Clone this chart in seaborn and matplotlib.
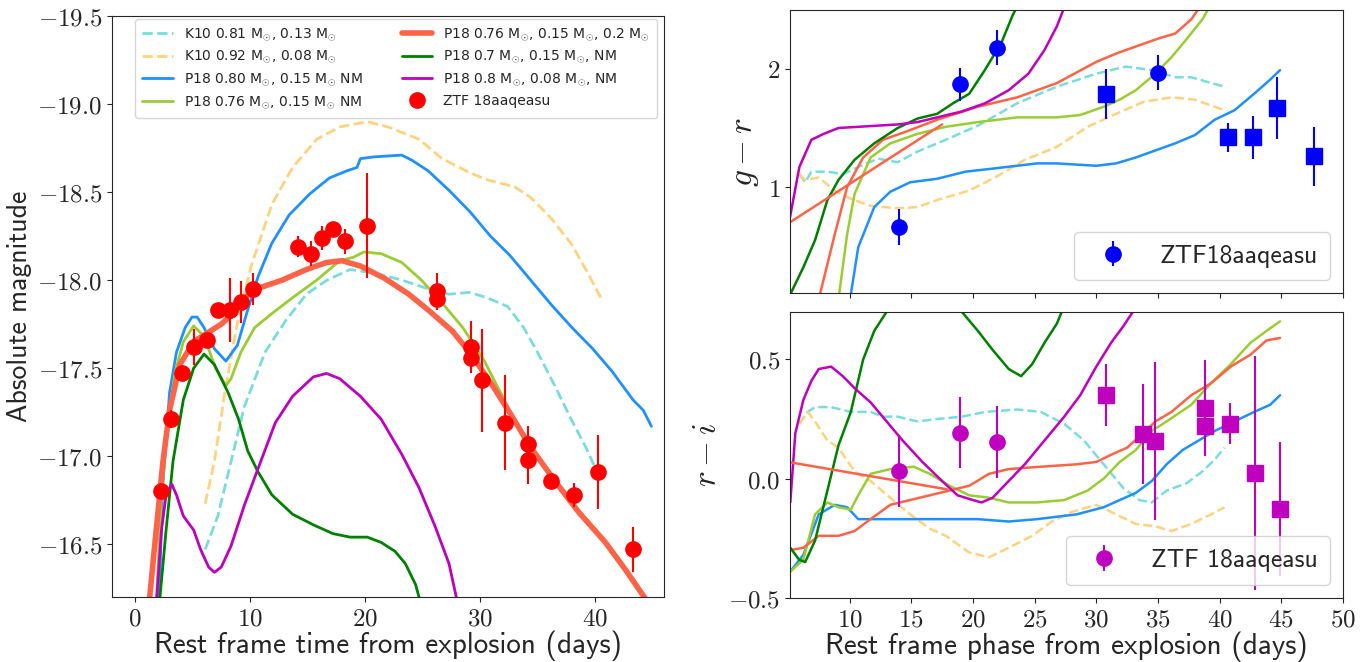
import matplotlib
matplotlib.use("Agg")
import matplotlib.pyplot as plt
from matplotlib.ticker import FuncFormatter
import seaborn as sns

# ---------------- left panel: light curves ----------------
t_k10_081 = [6.1, 7.2, 8.35, 9.5, 11.3, 13.1, 14.9, 16.7, 18.7, 20.8, 23.2, 25.5, 27.3, 29.1, 30.6, 32.4, 33.8, 35.0, 36.5, 38.0, 39.2, 39.9]
m_k10_081 = [-16.47, -16.66, -16.97, -17.28, -17.59, -17.77, -17.92, -18.00, -18.06, -18.04, -18.00, -17.95, -17.92, -17.93, -17.90, -17.85, -17.73, -17.59, -17.40, -17.20, -17.05, -16.95]

t_k10_092 = [6.1, 6.9, 7.8, 9.0, 10.1, 11.9, 13.7, 15.8, 17.8, 20.2, 22.0, 24.7, 26.7, 29.1, 30.6, 33.0, 34.4, 36.2, 38.0, 39.2, 40.5]
m_k10_092 = [-16.73, -16.97, -17.36, -17.79, -18.08, -18.43, -18.64, -18.80, -18.87, -18.90, -18.87, -18.80, -18.69, -18.61, -18.57, -18.53, -18.47, -18.35, -18.20, -18.06, -17.90]

t_p18_080 = [2.05, 2.4, 3.0, 3.6, 4.36, 4.95, 5.4, 6.0, 6.9, 7.9, 8.9, 9.7, 10.7, 11.9, 13.4, 15.2, 16.9, 18.4, 19.3, 19.6, 20.8, 23.2, 24.1, 25.5, 27.3, 29.1, 30.9, 32.6, 34.4, 36.2, 38.0, 39.8, 41.5, 43.3, 44.2, 44.9]
m_p18_080 = [-16.1, -16.82, -17.36, -17.59, -17.73, -17.79, -17.79, -17.73, -17.61, -17.54, -17.63, -17.81, -18.02, -18.21, -18.37, -18.49, -18.58, -18.62, -18.64, -18.69, -18.70, -18.71, -18.68, -18.62, -18.51, -18.39, -18.25, -18.14, -18.00, -17.86, -17.73, -17.61, -17.48, -17.32, -17.26, -17.17]

t_p18_076 = [1.8, 2.3, 2.9, 3.5, 4.2, 5.1, 6.0, 7.0, 7.9, 8.35, 9.2, 10.4, 11.9, 13.7, 15.8, 17.8, 19.0, 19.9, 21.4, 23.2, 24.9, 26.7, 28.5, 30.3, 32.65, 34.4, 36.5, 38.6, 40.9, 42.7, 45.0]
m_p18_076 = [-16.1, -16.78, -17.21, -17.48, -17.65, -17.74, -17.68, -17.50, -17.40, -17.44, -17.59, -17.73, -17.81, -17.90, -18.00, -18.11, -18.13, -18.16, -18.15, -18.10, -18.00, -17.87, -17.73, -17.55, -17.25, -17.06, -16.87, -16.69, -16.52, -16.36, -16.13]

t_p18_csm = [1.2, 1.84, 2.43, 3.0, 3.9, 5.1, 6.3, 7.5, 8.35, 9.5, 11.0, 12.8, 14.9, 16.65, 18.0, 19.6, 21.7, 23.8, 25.5, 27.6, 29.1, 30.9, 32.65, 34.4, 36.5, 38.6, 40.9, 42.7, 44.8]
m_p18_csm = [-16.15, -16.58, -16.97, -17.26, -17.52, -17.65, -17.70, -17.75, -17.80, -17.90, -17.96, -18.00, -18.06, -18.10, -18.11, -18.08, -18.01, -17.92, -17.83, -17.71, -17.59, -17.42, -17.24, -17.05, -16.86, -16.68, -16.51, -16.35, -16.15]

t_p18_07 = [2.1, 2.7, 3.3, 4.2, 5.1, 6.0, 6.9, 8.1, 9.0, 9.8, 10.7, 11.9, 13.7, 15.5, 17.2, 18.7, 20.2, 21.4, 22.6, 23.5, 24.4, 24.9]
m_p18_07 = [-16.15, -16.58, -16.97, -17.32, -17.50, -17.58, -17.52, -17.36, -17.21, -17.03, -16.91, -16.78, -16.67, -16.61, -16.56, -16.54, -16.54, -16.51, -16.46, -16.39, -16.27, -16.15]

t_p18_08 = [1.84, 2.3, 2.7, 3.2, 3.6, 4.2, 5.1, 5.7, 6.4, 6.9, 7.5, 8.35, 9.5, 10.7, 12.2, 13.7, 15.5, 16.65, 17.8, 19.6, 21.4, 23.2, 24.7, 26.1, 27.3, 28.1]
m_p18_08 = [-16.15, -16.58, -16.78, -16.84, -16.78, -16.66, -16.58, -16.47, -16.37, -16.34, -16.37, -16.49, -16.72, -16.93, -17.19, -17.34, -17.45, -17.47, -17.44, -17.34, -17.21, -17.01, -16.82, -16.60, -16.39, -16.15]

t_obs = [2.22, 3.14, 4.12, 5.16, 6.22, 7.23, 8.24, 9.19, 10.22, 14.19, 15.26, 16.24, 17.24, 18.22, 20.2, 26.3, 26.3, 29.24, 29.24, 30.2, 32.2, 34.2, 34.2, 36.2, 38.2, 40.27, 43.3]
m_obs = [-16.80, -17.21, -17.47, -17.62, -17.66, -17.83, -17.83, -17.875, -17.95, -18.19, -18.15, -18.24, -18.29, -18.22, -18.31, -17.94, -17.89, -17.62, -17.56, -17.43, -17.19, -17.07, -16.98, -16.86, -16.78, -16.91, -16.47]
e_obs = [0.03, 0.05, 0.04, 0.10, 0.04, 0.03, 0.18, 0.12, 0.09, 0.06, 0.07, 0.07, 0.03, 0.07, 0.30, 0.10, 0.06, 0.15, 0.05, 0.29, 0.27, 0.10, 0.14, 0.03, 0.07, 0.21, 0.13]

# ---------------- right top: g - r ----------------
t_gr_k10_081 = [5.93, 6.4, 6.9, 8.17, 9.45, 10.7, 12.3, 13.9, 15.5, 17.8, 20.4, 23.6, 26.8, 30.0, 32.4, 34.5, 36.4, 37.7, 39.0, 40.4]
v_gr_k10_081 = [1.11, 1.04, 1.13, 1.13, 1.11, 1.17, 1.24, 1.21, 1.30, 1.40, 1.52, 1.71, 1.85, 1.96, 2.02, 1.99, 1.93, 1.93, 1.89, 1.85]
t_gr_k10_092 = [5.93, 6.4, 7.5, 8.8, 10.1, 11.7, 13.9, 15.5, 17.1, 19.7, 21.95, 24.2, 26.8, 29.3, 31.6, 33.8, 36.1, 38.0, 40.4]
v_gr_k10_092 = [1.11, 1.06, 1.08, 0.97, 0.90, 0.84, 0.82, 0.83, 0.89, 0.97, 1.09, 1.23, 1.34, 1.51, 1.62, 1.72, 1.76, 1.74, 1.65]
t_gr_p18_080 = [10.1, 10.7, 12.0, 13.3, 14.9, 17.1, 19.4, 21.95, 25.2, 26.8, 30.0, 31.6, 33.2, 34.8, 36.4, 38.0, 39.6, 41.2, 42.8, 44.1, 44.9]
v_gr_p18_080 = [0.09, 0.49, 0.83, 0.96, 1.04, 1.07, 1.13, 1.16, 1.20, 1.20, 1.18, 1.20, 1.25, 1.31, 1.37, 1.44, 1.57, 1.65, 1.79, 1.91, 1.99]
t_gr_p18_076 = [9.1, 9.8, 10.4, 11.7, 13.3, 15.5, 17.8, 20.4, 23.6, 26.8, 28.7, 30.6, 31.9, 33.2, 34.8, 36.1, 37.3, 38.6, 39.6]
v_gr_p18_076 = [0.05, 0.60, 0.94, 1.25, 1.37, 1.45, 1.51, 1.55, 1.59, 1.59, 1.61, 1.68, 1.74, 1.82, 1.96, 2.10, 2.25, 2.42, 2.60]
t_gr_p18_csm = [7.5, 8.8, 9.8, 11.1, 12.7, 14.6, 17.1, 20.4, 23.6, 26.8, 30.0, 31.6, 33.2, 35.1, 36.4, 37.7, 38.9]
v_gr_p18_csm = [0.05, 0.60, 1.00, 1.25, 1.40, 1.47, 1.57, 1.68, 1.76, 1.88, 2.06, 2.13, 2.19, 2.26, 2.30, 2.42, 2.60]
t_gr_p18_csm_early = [5.0, 17.5]
v_gr_p18_csm_early = [0.69, 1.53]
t_gr_p18_07 = [5.19, 6.25, 7.2, 8.2, 9.1, 10.4, 12.0, 13.9, 15.5, 17.1, 18.4, 19.7, 20.9, 22.3, 23.2, 23.9]
v_gr_p18_07 = [0.09, 0.32, 0.55, 0.89, 1.06, 1.23, 1.37, 1.50, 1.58, 1.62, 1.71, 1.79, 1.98, 2.22, 2.45, 2.60]
t_gr_p18_08 = [5.0, 5.93, 6.9, 7.9, 9.1, 10.7, 13.9, 15.5, 17.1, 19.1, 21.0, 22.9, 24.5, 25.8, 26.8, 27.7]
v_gr_p18_08 = [0.65, 1.17, 1.40, 1.45, 1.50, 1.51, 1.53, 1.55, 1.59, 1.64, 1.71, 1.82, 1.96, 2.16, 2.36, 2.60]

t_gr_circ = [13.97, 18.97, 21.99, 34.97]
v_gr_circ = [0.66, 1.87, 2.18, 1.97]
e_gr_circ = [0.15, 0.14, 0.15, 0.15]
t_gr_sq = [30.77, 40.7, 42.7, 44.68, 47.66]
v_gr_sq = [1.79, 1.42, 1.42, 1.67, 1.26]
e_gr_sq = [0.21, 0.12, 0.18, 0.26, 0.25]

# ---------------- right bottom: r - i ----------------
t_ri_k10_081 = [5.93, 6.6, 7.2, 8.5, 10.1, 11.7, 12.7, 13.9, 15.5, 17.1, 19.1, 21.0, 23.6, 25.5, 27.4, 29.0, 30.6, 32.2, 33.5, 34.5, 35.7, 37.3, 38.6, 39.6, 40.4]
v_ri_k10_081 = [0.23, 0.28, 0.30, 0.30, 0.28, 0.28, 0.26, 0.26, 0.24, 0.25, 0.26, 0.28, 0.29, 0.28, 0.23, 0.16, 0.06, -0.04, -0.09, -0.10, -0.05, -0.02, 0.03, 0.08, 0.13]
t_ri_k10_092 = [5.93, 6.6, 7.2, 8.2, 9.1, 10.4, 11.7, 13.3, 14.9, 16.5, 17.8, 19.7, 21.3, 22.9, 24.8, 26.4, 28.0, 30.0, 31.6, 33.2, 34.8, 36.1, 37.7, 39.3, 40.4]
v_ri_k10_092 = [0.23, 0.28, 0.24, 0.16, 0.13, 0.03, -0.01, -0.08, -0.15, -0.21, -0.24, -0.31, -0.33, -0.29, -0.24, -0.18, -0.14, -0.11, -0.15, -0.19, -0.20, -0.22, -0.19, -0.15, -0.12]
t_ri_p18_080 = [5.19, 6.25, 7.5, 8.8, 9.8, 10.7, 12.3, 13.9, 17.1, 20.4, 22.9, 25.2, 28.4, 30.6, 31.9, 33.2, 34.5, 35.7, 37.0, 38.3, 39.6, 41.2, 42.8, 44.1, 44.9]
v_ri_p18_080 = [-0.39, -0.32, -0.15, -0.11, -0.12, -0.17, -0.17, -0.17, -0.17, -0.17, -0.18, -0.17, -0.15, -0.12, -0.09, -0.06, -0.01, 0.06, 0.12, 0.16, 0.20, 0.24, 0.28, 0.31, 0.35]
t_ri_p18_076 = [5.19, 6.25, 7.2, 8.2, 9.1, 10.1, 10.7, 11.7, 13.3, 15.2, 16.5, 18.1, 19.7, 21.3, 22.9, 25.2, 27.4, 29.3, 30.6, 31.9, 33.2, 34.5, 35.7, 37.7, 39.3, 40.9, 42.5, 43.8, 44.9]
v_ri_p18_076 = [-0.39, -0.34, -0.15, -0.10, -0.12, -0.13, -0.07, 0.02, 0.04, 0.05, 0.02, -0.03, -0.07, -0.08, -0.10, -0.10, -0.09, -0.05, 0.00, 0.07, 0.12, 0.20, 0.24, 0.31, 0.40, 0.48, 0.57, 0.62, 0.66]
t_ri_p18_csm = [5.19, 6.25, 7.5, 9.1, 10.4, 11.7, 13.3, 14.9, 16.5, 18.1, 19.7, 21.3, 22.9, 25.5, 28.4, 30.0, 31.2, 32.5, 33.8, 34.8, 36.1, 37.7, 39.3, 40.9, 42.5, 43.8, 44.9]
v_ri_p18_csm = [-0.30, -0.29, -0.24, -0.24, -0.22, -0.17, -0.11, -0.09, -0.07, -0.05, -0.03, 0.02, 0.04, 0.05, 0.06, 0.07, 0.10, 0.13, 0.19, 0.24, 0.28, 0.35, 0.40, 0.47, 0.52, 0.58, 0.59]
t_ri_p18_csm_early = [5.0, 17.9]
v_ri_p18_csm_early = [0.07, -0.045]
t_ri_p18_07 = [5.19, 5.9, 6.4, 7.2, 8.2, 9.1, 10.1, 11.1, 12.0, 13.0, 14.5, 16.0, 17.5, 19.1, 20.4, 21.6, 22.9, 23.9, 24.8, 25.8, 26.8, 27.6]
v_ri_p18_07 = [-0.29, -0.34, -0.35, -0.26, -0.05, 0.14, 0.28, 0.50, 0.62, 0.70, 0.80, 0.84, 0.80, 0.70, 0.62, 0.54, 0.46, 0.43, 0.48, 0.57, 0.65, 0.75]
t_ri_p18_08 = [5.19, 5.6, 6.25, 6.9, 7.5, 8.5, 9.45, 10.4, 11.7, 13.0, 14.3, 15.9, 17.5, 18.75, 20.0, 20.7, 21.6, 22.9, 24.2, 25.8, 27.4, 28.7, 30.0, 31.2, 32.2, 33.6]
v_ri_p18_08 = [-0.10, 0.19, 0.33, 0.41, 0.46, 0.47, 0.43, 0.38, 0.32, 0.24, 0.16, 0.07, -0.01, -0.07, -0.09, -0.10, -0.08, -0.01, 0.06, 0.16, 0.26, 0.35, 0.47, 0.57, 0.64, 0.75]

t_ri_circ = [13.97, 18.97, 21.99]
v_ri_circ = [0.031, 0.193, 0.154]
e_ri_circ = [0.15, 0.15, 0.15]
t_ri_sq = [30.77, 33.8, 34.76, 38.8, 38.8, 40.87, 42.86, 44.87]
v_ri_sq = [0.352, 0.186, 0.158, 0.297, 0.221, 0.231, 0.024, -0.127]
e_ri_sq = [0.13, 0.21, 0.33, 0.20, 0.12, 0.085, 0.49, 0.28]

msun = r"M$_{\odot}$"
labels = [
    f"K10 0.81 {msun}, 0.13 {msun}",
    f"K10 0.92 {msun}, 0.08 {msun}",
    f"P18 0.80 {msun}, 0.15 {msun} NM",
    f"P18 0.76 {msun}, 0.15 {msun} NM",
    f"P18 0.76 {msun}, 0.15 {msun}, 0.2 {msun}",
    f"P18 0.7 {msun}, 0.15 {msun}, NM",
    f"P18 0.8 {msun}, 0.08 {msun}, NM",
]
c_cyan = "#7adcdc"
c_orange = "#ffd27f"

sns.set_style("ticks")
plt.rcParams["mathtext.fontset"] = "cm"
plt.rcParams["font.family"] = ["DejaVu Sans"]

fig = plt.figure(figsize=(13.68, 6.62), dpi=100)
ax = fig.add_axes([0.0819, 0.0982, 0.4035, 0.8776])
ax_gr = fig.add_axes([0.5775, 0.557, 0.4042, 0.428])
ax_ri = fig.add_axes([0.5775, 0.097, 0.4042, 0.432])

fmt1 = FuncFormatter(lambda v, p: f"${v:.1f}$")
fmt0 = FuncFormatter(lambda v, p: f"${v:.0f}$")


def lines(a, t, v, color, lw=2, ls="-", label=None):
    sns.lineplot(x=t, y=v, ax=a, color=color, lw=lw, ls=ls, sort=False,
                 estimator=None, label=label, legend=label is not None)


lines(ax, t_k10_081, m_k10_081, c_cyan, ls="--", label=labels[0])
lines(ax, t_k10_092, m_k10_092, c_orange, ls="--", label=labels[1])
lines(ax, t_p18_080, m_p18_080, "dodgerblue", label=labels[2])
lines(ax, t_p18_076, m_p18_076, "yellowgreen", label=labels[3])
lines(ax, t_p18_csm, m_p18_csm, "tomato", lw=4, label=labels[4])
lines(ax, t_p18_07, m_p18_07, "green", label=labels[5])
lines(ax, t_p18_08, m_p18_08, "m", label=labels[6])
ax.errorbar(t_obs, m_obs, yerr=e_obs, fmt="o", color="red", ms=11, elinewidth=1.5,
            label="ZTF 18aaqeasu")
ax.set_xlim(-2, 46)
ax.set_ylim(-16.2, -19.5)
ax.set_yticks([-16.5, -17.0, -17.5, -18.0, -18.5, -19.0, -19.5])
ax.set_xticks([0, 10, 20, 30, 40])
ax.xaxis.set_major_formatter(fmt0)
ax.yaxis.set_major_formatter(fmt1)
ax.tick_params(labelsize=18)
ax.set_xlabel("Rest frame time from explosion (days)", family="cmss10", fontsize=21, labelpad=0)
ax.set_ylabel("Absolute magnitude", family="cmss10", fontsize=20)
h, l = ax.get_legend_handles_labels()
h = [x[0] if isinstance(x, tuple) else x for x in h]
ax.legend(h[:8], l[:8], ncol=2, loc="upper center", fontsize=10, handlelength=2.2,
          columnspacing=2.8, borderpad=0.5, labelspacing=0.42, borderaxespad=0.2,
          bbox_to_anchor=(0.515, 1.0))

# right panels: model colour curves
cols = [c_cyan, c_orange, "dodgerblue", "yellowgreen", "tomato", "green", "m"]
styles = ["--", "--", "-", "-", "-", "-", "-"]
for a, data, csm_early in [
    (ax_gr, [(t_gr_k10_081, v_gr_k10_081), (t_gr_k10_092, v_gr_k10_092), (t_gr_p18_080, v_gr_p18_080),
             (t_gr_p18_076, v_gr_p18_076), (t_gr_p18_csm, v_gr_p18_csm), (t_gr_p18_07, v_gr_p18_07),
             (t_gr_p18_08, v_gr_p18_08)], (t_gr_p18_csm_early, v_gr_p18_csm_early)),
    (ax_ri, [(t_ri_k10_081, v_ri_k10_081), (t_ri_k10_092, v_ri_k10_092), (t_ri_p18_080, v_ri_p18_080),
             (t_ri_p18_076, v_ri_p18_076), (t_ri_p18_csm, v_ri_p18_csm), (t_ri_p18_07, v_ri_p18_07),
             (t_ri_p18_08, v_ri_p18_08)], (t_ri_p18_csm_early, v_ri_p18_csm_early)),
]:
    for (t, v), c, s in zip(data, cols, styles):
        lines(a, t, v, c, lw=1.8, ls=s)
    lines(a, csm_early[0], csm_early[1], "tomato", lw=1.8)

ax_gr.errorbar(t_gr_circ, v_gr_circ, yerr=e_gr_circ, fmt="o", color="blue", ms=11,
               elinewidth=1.5, label="ZTF18aaqeasu")
ax_gr.errorbar(t_gr_sq, v_gr_sq, yerr=e_gr_sq, fmt="s", color="blue", ms=12, elinewidth=1.5)
ax_gr.set_xlim(5.17, 50)
ax_gr.set_ylim(0.1, 2.5)
ax_gr.set_yticks([1, 2])
ax_gr.set_xticks(range(10, 51, 5))
ax_gr.yaxis.set_major_formatter(fmt0)
ax_gr.tick_params(labelbottom=False, labelsize=18)
ax_gr.set_ylabel("$g - r$", fontsize=24)
ax_gr.legend(loc="lower right", prop={"family": "cmss10", "size": 18.5}, borderpad=0.5)

ax_ri.errorbar(t_ri_circ, v_ri_circ, yerr=e_ri_circ, fmt="o", color="m", ms=11,
               elinewidth=1.5, label="ZTF 18aaqeasu")
ax_ri.errorbar(t_ri_sq, v_ri_sq, yerr=e_ri_sq, fmt="s", color="m", ms=12, elinewidth=1.5)
ax_ri.set_xlim(5.17, 50)
ax_ri.set_ylim(-0.5, 0.7)
ax_ri.set_yticks([-0.5, 0.0, 0.5])
ax_ri.set_xticks(range(10, 51, 5))
ax_ri.xaxis.set_major_formatter(fmt0)
ax_ri.yaxis.set_major_formatter(fmt1)
ax_ri.tick_params(labelsize=18)
ax_ri.set_ylabel("$r - i$", fontsize=24)
ax_ri.set_xlabel("Rest frame phase from explosion (days)", family="cmss10", fontsize=21, labelpad=0)
ax_ri.legend(loc="lower right", prop={"family": "cmss10", "size": 18.5}, borderpad=0.5)

fig.savefig("out.png", dpi=100)
